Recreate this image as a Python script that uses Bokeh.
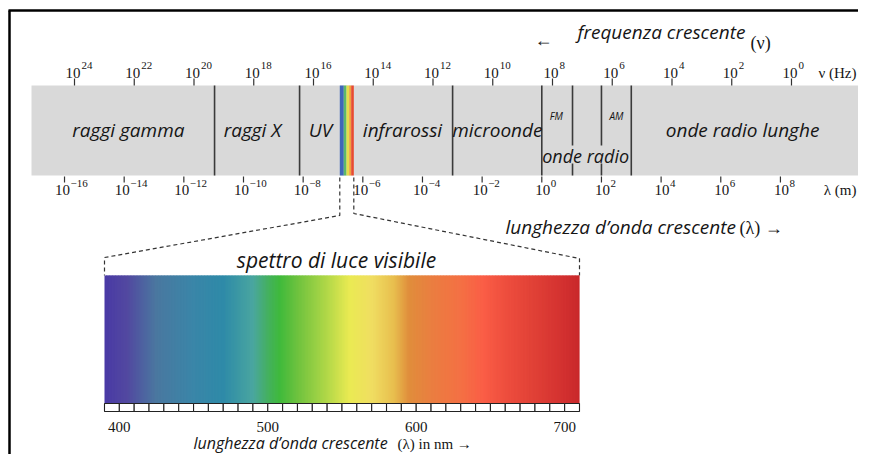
import numpy as np
from bokeh.plotting import figure
from bokeh.models import Range1d
from bokeh.core.properties import value
from bokeh.embed import file_html
from bokeh.resources import INLINE

# ---------------- data ----------------
freq_exponents = [24, 22, 20, 18, 16, 14, 12, 10, 8, 6, 4, 2, 0]
wavelength_exponents = [-16, -14, -12, -10, -8, -6, -4, -2, 0, 2, 4, 6, 8]

band_names = ["raggi gamma", "raggi X", "UV", "infrarossi", "microonde", "onde radio lunghe"]
band_centers_log_m = [-13.86, -9.70, -7.42, -4.67, -1.49, 6.73]
band_edges_log_m = [-10.97, -8.12, -2.99, 0.0, 3.0]
radio_split_log_m = [1.03, 2.0]
radio_sub_names = ["FM", "AM"]
radio_sub_centers_log_m = [0.49, 2.50]
radio_group_name = "onde radio"
radio_group_center_log_m = 1.47

visible_strip_edges_log_m = [-6.772, -6.638, -6.547, -6.457, -6.390, -6.302]
visible_strip_colors = ["#3f66b8", "#5cb86a", "#e4dc4a", "#f0a03c", "#e84a30"]

nm_box_edges = list(range(390, 711, 10))
nm_labels = [400, 500, 600, 700]
spectrum_stops_nm = [390, 405, 425, 450, 470, 490, 500, 508, 520, 540, 555, 570, 585, 595, 610, 630, 645, 660, 680, 700, 710]
spectrum_stops_hex = ["#4a3aa6", "#5248a0", "#4a78a0", "#3a86a8", "#2e8aa8", "#4aa6a0", "#44b060",
                      "#3fba3c", "#6ec23e", "#b2d848", "#eaea52", "#f0de62", "#e8be4e", "#e08e3c",
                      "#ea7e40", "#f47044", "#fa5e46", "#ee4e3e", "#e04036", "#d23030", "#c8282a"]

# ---------------- layout ----------------
W, H = 858, 454
X0, X1 = -18.146, 10.617          # log10(lambda / m)
F0, F1 = 26.477, -2.243           # log10(nu / Hz)
NM0, NM1 = 319.94, 897.96         # nm (visible inset)

SERIF = value("Liberation Serif")
HAND = value("Open Sans")
INK = "#151515"


def px(xpix):
    return X0 + xpix / W * (X1 - X0)


def nm_to_main(nm):
    return X0 + (nm - NM0) * (X1 - X0) / (NM1 - NM0)


def base(y, size):
    # compensates the baseline shift of svg text so that glyphs sit on y
    return y - round(0.3 * size)


p = figure(width=W, height=H, x_range=Range1d(X0, X1), y_range=Range1d(H, 0),
           output_backend="svg", toolbar_location=None,
           x_axis_type=None, y_axis_type=None, min_border=0)
p.extra_x_ranges = {"freq": Range1d(F0, F1), "nm": Range1d(NM0, NM1)}
p.outline_line_color = None
p.background_fill_color = "white"
p.border_fill_color = "white"

# frame (top and left edges)
p.segment(x0=[px(8), px(9)], y0=[10, 10], x1=[X1, px(9)], y1=[10, H],
          line_color="black", line_width=2.5)

# ---- main band ----
p.quad(left=[px(31)], right=[px(862)], top=[85], bottom=[175],
       fill_color="#d9d9d9", line_color=None)
p.quad(left=visible_strip_edges_log_m[:-1], right=visible_strip_edges_log_m[1:],
       top=85, bottom=175, fill_color=visible_strip_colors, line_color=None)
p.segment(x0=band_edges_log_m, x1=band_edges_log_m, y0=85, y1=175,
          line_color="#3a3a3a", line_width=1.6)
p.segment(x0=radio_split_log_m * 2, x1=radio_split_log_m * 2,
          y0=[85, 85, 163, 163], y1=[145, 145, 175, 175],
          line_color="#3a3a3a", line_width=1.6)

# band labels
p.text(x=band_centers_log_m, y=base(135, 19), text=band_names, text_font=HAND,
       text_font_style="italic", text_font_size="19px", text_align="center",
       text_baseline="alphabetic", text_color=INK)
p.text(x=radio_sub_centers_log_m, y=base(118, 10), text=radio_sub_names, text_font=HAND,
       text_font_style="italic", text_font_size="10px", text_align="center",
       text_baseline="alphabetic", text_color=INK)
p.text(x=[radio_group_center_log_m], y=base(160, 18), text=[radio_group_name], text_font=HAND,
       text_font_style="italic", text_font_size="18px", text_align="center",
       text_baseline="alphabetic", text_color=INK)

# ---- frequency scale (top) ----
p.segment(x0=freq_exponents, x1=freq_exponents, y0=78, y1=85, x_range_name="freq",
          line_color="#333333", line_width=1.2)
p.text(x=freq_exponents, y=base(76, 15), text=["10"] * len(freq_exponents), x_range_name="freq",
       x_offset=-1.5, text_font=SERIF, text_font_size="15px", text_align="center",
       text_baseline="alphabetic", text_color=INK)
p.text(x=freq_exponents, y=base(68, 11), text=[str(e) for e in freq_exponents], x_range_name="freq",
       x_offset=7, text_font=SERIF, text_font_size="11px", text_align="left",
       text_baseline="alphabetic", text_color=INK)
p.text(x=[X1], y=base(76, 15), text=["\u03bd (Hz)"], x_offset=-2, text_font=SERIF,
       text_font_size="15px", text_align="right", text_baseline="alphabetic", text_color=INK)

# ---- wavelength scale (below band) ----
p.segment(x0=wavelength_exponents, x1=wavelength_exponents, y0=176, y1=182,
          line_color="#333333", line_width=1.2)
offs = [-2 if e < 0 else 1 for e in wavelength_exponents]
p.text(x=wavelength_exponents, y=base(193, 15), text=["10"] * len(wavelength_exponents),
       x_offset=offs, text_font=SERIF, text_font_size="15px", text_align="center",
       text_baseline="alphabetic", text_color=INK)
p.text(x=wavelength_exponents, y=base(186, 11),
       text=[str(e).replace("-", "\u2212") for e in wavelength_exponents],
       x_offset=[o + 8 for o in offs], text_font=SERIF, text_font_size="11px",
       text_align="left", text_baseline="alphabetic", text_color=INK)
p.text(x=[X1], y=base(193, 15), text=["\u03bb (m)"], x_offset=-2, text_font=SERIF,
       text_font_size="15px", text_align="right", text_baseline="alphabetic", text_color=INK)

# ---- headers ----
p.text(x=[px(534)], y=base(44, 18), text=["\u2190"], text_font=SERIF, text_font_size="18px",
       text_align="left", text_baseline="alphabetic", text_color=INK)
p.text(x=[px(577)], y=base(37, 19), text=["frequenza crescente"], text_font=HAND,
       text_font_style="italic", text_font_size="19px", text_align="left",
       text_baseline="alphabetic", text_color=INK)
p.text(x=[px(750)], y=base(47, 18), text=["(\u03bd)"], text_font=SERIF, text_font_size="18px",
       text_align="left", text_baseline="alphabetic", text_color=INK)
p.text(x=[px(505)], y=base(232, 19), text=["lunghezza d\u2019onda crescente"], text_font=HAND,
       text_font_style="italic", text_font_size="19px", text_align="left",
       text_baseline="alphabetic", text_color=INK)
p.text(x=[px(739)], y=base(232, 18), text=["(\u03bb) \u2192"], text_font=SERIF, text_font_size="18px",
       text_align="left", text_baseline="alphabetic", text_color=INK)

# ---- connectors ----
vl, vr = visible_strip_edges_log_m[0], visible_strip_edges_log_m[-1]
p.multi_line(xs=[[vl, vl, nm_to_main(nm_box_edges[0]), nm_to_main(nm_box_edges[0])],
                 [vr, vr, nm_to_main(nm_box_edges[-1]), nm_to_main(nm_box_edges[-1])]],
             ys=[[177, 215, 257, 275], [177, 213, 258, 275]],
             line_color="#333333", line_width=1.2, line_dash="4 3")

p.text(x=[px(336)], y=base(265, 21), text=["spettro di luce visibile"], text_font=HAND,
       text_font_style="italic", text_font_size="21px", text_align="center",
       text_baseline="alphabetic", text_color=INK)

# ---- visible spectrum gradient ----
def hex2rgb(h):
    return np.array([int(h[i:i + 2], 16) for i in (1, 3, 5)], dtype=float)

stops = np.array([hex2rgb(h) for h in spectrum_stops_hex])
grid_nm = np.arange(nm_box_edges[0], nm_box_edges[-1], 1.0)
cols = []
for g in grid_nm + 0.5:
    rgb = [np.interp(g, spectrum_stops_nm, stops[:, k]) for k in range(3)]
    cols.append("#%02x%02x%02x" % tuple(int(round(c)) for c in rgb))
rights = np.minimum(grid_nm + 1.8, nm_box_edges[-1])
p.quad(left=grid_nm, right=rights, top=275, bottom=403, x_range_name="nm",
       fill_color=cols, line_color=None)

# tick boxes
p.quad(left=nm_box_edges[:-1], right=nm_box_edges[1:], top=403, bottom=411,
       x_range_name="nm", fill_color="white", line_color="#222222", line_width=1.1)
p.text(x=nm_labels, y=base(430, 15), text=[str(v) for v in nm_labels], x_range_name="nm",
       text_font=SERIF, text_font_size="15px", text_align="center",
       text_baseline="alphabetic", text_color=INK)
p.text(x=[px(193)], y=base(447, 16), text=["lunghezza d\u2019onda crescente"], text_font=HAND,
       text_font_style="italic", text_font_size="16px", text_align="left",
       text_baseline="alphabetic", text_color=INK)
p.text(x=[px(397)], y=base(447, 15), text=["(\u03bb) in nm \u2192"], text_font=SERIF,
       text_font_size="15px", text_align="left", text_baseline="alphabetic", text_color=INK)

open("out.html", "w").write(file_html(p, INLINE))
